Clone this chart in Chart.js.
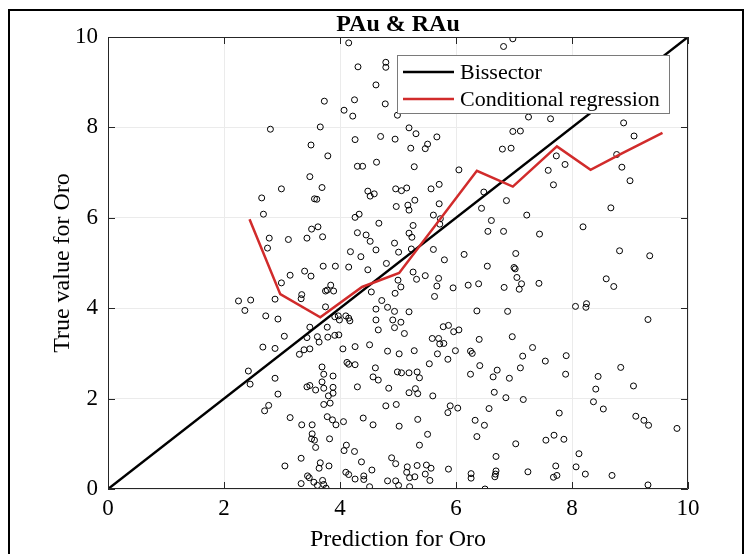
<!DOCTYPE html>
<html><head><meta charset="utf-8">
<script src="https://cdn.jsdelivr.net/npm/chart.js@4/dist/chart.umd.min.js"></script>
<style>
html,body{margin:0;padding:0;background:#fff;}
#wrap{position:relative;width:746px;height:554px;overflow:hidden;background:#fff;}
#frame{position:absolute;left:8px;top:9px;width:732px;height:600px;border:2px solid #000;}
canvas{position:absolute;left:0;top:0;}
</style></head><body>
<div id="wrap"><div id="frame"></div><canvas id="c" width="746" height="554"></canvas></div>
<script>
// ---- data ----
const titleText = 'PAu & RAu';
const xTitle = 'Prediction for Oro';
const yTitle = 'True value for Oro';
const xTicks = [0, 2, 4, 6, 8, 10];
const yTicks = [0, 2, 4, 6, 8, 10];
const bisectorX = [0, 10];
const bisectorY = [0, 10];
const regX = [2.44, 2.97, 3.66, 4.38, 5.02, 6.36, 6.98, 7.74, 8.32, 8.87, 9.56];
const regY = [5.97, 4.31, 3.80, 4.47, 4.78, 7.04, 6.69, 7.58, 7.06, 7.43, 7.88];
const predX = [
4.15,4.31,4.62,3.73,4.25,4.07,4.22,2.80,3.66,4.70,4.26,3.50,3.79,4.30,4.39,4.63,3.48,
6.98,6.82,4.79,4.79,4.78,4.99,7.25,7.63,5.19,5.31,4.95,5.67,6.98,7.11,5.22,5.47,5.51,6.80,6.95,5.28,6.05,7.73,7.59,7.68,4.96,5.15,5.71,5.57,
8.89,9.07,8.77,7.88,8.86,9.00,
2.99,3.69,2.65,3.56,3.60,4.48,4.59,4.52,2.68,4.26,4.33,4.67,3.51,3.62,4.30,4.45,4.52,2.78,3.11,3.43,3.70,2.75,4.62,4.18,4.36,3.71,3.92,4.15,4.48,3.39,3.50,3.14,2.99,3.84,3.75,3.78,3.89,4.54,3.34,3.33,2.88,2.25,2.46,2.36,3.75,4.62,2.72,2.93,3.91,3.99,3.97,4.10,4.15,4.17,4.62,3.48,3.78,4.66,3.04,3.61,3.79,3.91,3.98,3.43,
5.06,6.48,4.97,5.17,5.19,5.29,5.71,6.87,6.44,5.61,5.73,7.22,5.26,5.72,6.61,6.55,6.82,7.44,5.19,5.24,4.94,5.01,5.61,5.23,4.80,5.80,6.14,7.03,6.54,7.00,7.02,5.26,5.32,5.47,5.00,5.05,4.95,5.70,5.67,5.63,5.95,6.21,6.39,6.83,7.05,7.13,7.09,7.43,4.72,4.82,4.94,5.19,6.36,6.89,4.91,5.05,4.94,5.11,5.78,5.87,5.96,6.05,5.59,5.70,6.40,6.97,
8.67,8.19,8.82,9.34,8.59,8.72,8.06,8.25,8.24,9.31,
3.64,2.67,2.88,3.30,3.38,3.48,4.05,4.26,4.51,2.42,2.45,2.88,2.93,3.69,3.72,3.88,4.12,4.15,4.26,4.61,4.57,4.66,3.43,3.48,3.58,3.69,3.72,3.88,3.88,3.80,3.72,3.83,4.30,2.77,2.70,3.14,3.34,3.52,3.78,3.87,3.93,4.06,4.40,4.57,3.52,3.56,3.51,3.58,3.82,4.11,4.07,4.25,4.37,3.33,3.05,3.64,3.66,3.81,3.44,3.47,3.55,3.70,3.72,3.33,3.61,3.76,4.10,4.15,4.26,4.41,4.41,4.55,4.51,
5.72,5.79,4.82,5.02,5.28,5.68,5.86,5.99,6.25,6.28,6.41,7.15,7.32,7.54,5.54,4.99,5.06,5.19,5.33,5.37,6.25,6.71,6.64,6.92,7.11,4.84,5.19,5.30,5.34,5.60,6.66,6.86,7.16,4.79,4.97,5.90,5.86,6.03,6.57,7.78,5.34,6.33,6.49,5.02,5.51,6.36,7.55,7.69,5.37,7.03,6.69,4.89,4.96,5.16,5.33,5.49,5.57,5.87,5.15,5.47,5.20,5.29,5.55,4.82,4.96,5.01,5.20,6.26,6.26,6.69,6.68,6.67,6.50,7.24,7.72,7.68,7.74,
7.90,7.89,8.84,8.45,8.41,8.37,8.54,9.06,9.10,9.24,9.32,9.81,7.86,8.12,8.07,8.23,8.69,9.31
];
const trueY = [
9.87,9.34,8.94,8.58,8.61,8.38,8.25,7.96,8.01,7.80,7.73,7.61,7.37,7.14,7.14,7.23,6.91,
9.96,9.79,9.44,9.33,8.52,8.27,8.23,8.19,7.99,7.86,7.74,7.79,7.91,7.92,7.54,7.53,7.63,7.52,7.54,7.13,7.06,7.37,7.05,6.73,6.64,6.66,6.74,6.64,
8.10,7.81,7.40,7.18,7.12,6.82,
6.64,6.67,6.44,6.42,6.41,6.59,6.53,6.48,6.08,6.01,6.08,5.88,5.75,5.80,5.67,5.62,5.48,5.55,5.52,5.55,5.58,5.33,5.29,5.25,5.14,4.93,4.93,4.91,4.85,4.82,4.71,4.73,4.56,4.51,4.38,4.40,4.38,4.36,4.30,4.21,4.20,4.16,4.18,3.95,4.03,3.98,3.83,3.76,3.81,3.74,3.83,3.83,3.78,3.72,3.74,3.58,3.58,3.52,3.38,3.37,3.36,3.40,3.41,3.35,
6.60,6.57,6.25,6.28,6.17,6.39,6.31,6.38,6.21,6.06,5.98,6.06,5.83,5.86,5.94,5.70,5.70,5.64,5.66,5.57,5.44,5.24,5.30,5.31,4.99,5.07,5.19,5.21,4.93,4.90,4.87,4.80,4.64,4.72,4.62,4.47,4.33,4.66,4.49,4.26,4.45,4.51,4.54,4.46,4.68,4.54,4.42,4.55,4.17,4.02,3.93,3.92,3.94,3.93,3.74,3.69,3.57,3.44,3.59,3.62,3.48,3.52,3.33,3.33,3.31,3.37,
6.22,5.80,5.27,5.16,4.65,4.48,4.04,4.10,4.02,3.75,
3.25,3.14,3.11,2.98,3.08,3.10,3.10,3.15,3.19,2.61,2.32,2.45,2.10,2.70,2.54,2.50,2.80,2.76,2.75,2.68,2.48,2.41,2.26,2.29,2.19,2.37,2.23,2.25,2.12,2.06,1.87,1.90,2.26,1.85,1.73,1.58,1.42,1.42,1.60,1.53,1.42,1.49,1.57,1.42,1.22,1.08,1.11,0.92,1.11,0.97,0.85,0.83,0.60,0.68,0.51,0.46,0.58,0.51,0.29,0.25,0.15,0.19,0.10,0.12,0.08,0.02,0.37,0.32,0.22,0.29,0.21,0.42,0.05,
3.21,3.22,3.05,2.99,3.06,2.99,2.87,3.06,3.05,3.00,2.73,2.94,3.13,2.83,2.77,2.59,2.57,2.57,2.59,2.46,2.54,2.63,2.48,2.45,2.68,2.23,2.13,2.22,2.11,2.06,2.14,2.02,1.98,1.84,1.87,1.84,1.69,1.79,1.78,1.68,1.54,1.52,1.41,1.39,1.21,1.16,1.08,1.19,0.97,1.00,0.72,0.69,0.56,0.49,0.52,0.53,0.46,0.44,0.37,0.33,0.25,0.27,0.19,0.18,0.18,0.08,0.05,0.34,0.24,0.40,0.33,0.27,0.00,0.38,0.51,0.26,0.30,
2.95,2.54,2.69,2.49,2.21,1.93,1.77,2.28,1.61,1.52,1.41,1.34,1.10,0.78,0.49,0.33,0.30,0.09
];

const FONT = "'Liberation Serif', 'Times New Roman', serif";
const scatterPts = predX.map((x, i) => ({x: x, y: trueY[i]}));
const regPts = regX.map((x, i) => ({x: x, y: regY[i]}));
const bisPts = bisectorX.map((x, i) => ({x: x, y: bisectorY[i]}));

const framePlugin = {
  id: 'frameBox',
  afterDatasetsDraw(chart) {
    const {ctx, chartArea: a, scales: {x, y}} = chart;
    ctx.save();
    ctx.strokeStyle = '#262626';
    ctx.lineWidth = 1;
    ctx.beginPath();
    ctx.rect(a.left + 0.5, a.top + 0.5, a.right - a.left - 1, a.bottom - a.top - 1);
    ctx.stroke();
    const tl = 7;
    ctx.beginPath();
    xTicks.forEach(v => {
      const p = Math.round(x.getPixelForValue(v)) + 0.5;
      ctx.moveTo(p, a.bottom); ctx.lineTo(p, a.bottom - tl);
      ctx.moveTo(p, a.top); ctx.lineTo(p, a.top + tl);
    });
    yTicks.forEach(v => {
      const p = Math.round(y.getPixelForValue(v)) + 0.5;
      ctx.moveTo(a.left, p); ctx.lineTo(a.left + tl, p);
      ctx.moveTo(a.right, p); ctx.lineTo(a.right - tl, p);
    });
    ctx.stroke();
    // legend
    const items = chart.data.datasets.filter(d => d.inLegend);
    items.sort((p, q) => p.legendIndex - q.legendIndex);
    const bx = a.right - 291, by = a.top + 18, bw = 272, bh = 58;
    ctx.fillStyle = '#fff';
    ctx.fillRect(bx, by, bw, bh);
    ctx.strokeStyle = '#7a7a7a';
    ctx.lineWidth = 1;
    ctx.strokeRect(bx + 0.5, by + 0.5, bw, bh);
    ctx.font = '22px ' + FONT;
    ctx.textBaseline = 'middle';
    ctx.textAlign = 'left';
    items.forEach((d, i) => {
      const cy = by + 17 + i * 27;
      ctx.strokeStyle = d.borderColor;
      ctx.lineWidth = 2.5;
      ctx.beginPath();
      ctx.moveTo(bx + 6, cy); ctx.lineTo(bx + 57, cy);
      ctx.stroke();
      ctx.fillStyle = '#000';
      ctx.fillText(d.label, bx + 63, cy + 1);
    });
    ctx.restore();
  }
};

new Chart(document.getElementById('c'), {
  type: 'scatter',
  data: {
    datasets: [
      {label: 'Conditional regression', type: 'line', data: regPts, borderColor: '#d12b2b', borderWidth: 2.5,
       pointRadius: 0, fill: false, tension: 0, inLegend: true, legendIndex: 1},
      {label: 'Bissector', type: 'line', data: bisPts, borderColor: '#000000', borderWidth: 2.5,
       pointRadius: 0, fill: false, tension: 0, inLegend: true, legendIndex: 0},
      {label: 'Data', data: scatterPts, pointRadius: 3, borderWidth: 1, borderColor: '#000',
       backgroundColor: 'rgba(0,0,0,0)', pointHoverRadius: 3}
    ]
  },
  options: {
    responsive: false,
    animation: false,
    events: [],
    layout: {padding: {left: 0, right: 58, top: 0, bottom: 0}},
    plugins: {
      legend: {display: false},
      tooltip: {enabled: false},
      title: {display: true, text: titleText, fullSize: false, color: '#000',
        font: {family: FONT, size: 24, weight: 'bold', lineHeight: 1.0},
        padding: {top: 13, bottom: 0}}
    },
    scales: {
      x: {
        type: 'linear', min: 0, max: 10,
        afterBuildTicks: s => { s.ticks = xTicks.map(v => ({value: v})); },
        afterFit: s => { s.height = 65; },
        grid: {color: '#ebebeb', drawTicks: false, lineWidth: 1},
        border: {display: false},
        ticks: {color: '#000', font: {family: FONT, size: 23}, padding: 6, maxRotation: 0},
        title: {display: true, text: xTitle, color: '#000', font: {family: FONT, size: 24}, padding: {top: 0, bottom: 0}}
      },
      y: {
        type: 'linear', min: 0, max: 10,
        afterBuildTicks: s => { s.ticks = yTicks.map(v => ({value: v})); },
        afterFit: s => { s.width = 108; },
        grid: {color: '#ebebeb', drawTicks: false, lineWidth: 1},
        border: {display: false},
        ticks: {color: '#000', font: {family: FONT, size: 23}, padding: 10},
        title: {display: true, text: yTitle, color: '#000', font: {family: FONT, size: 24}, padding: {top: 48, bottom: 0}}
      }
    }
  },
  plugins: [framePlugin]
});
</script>
</body></html>
